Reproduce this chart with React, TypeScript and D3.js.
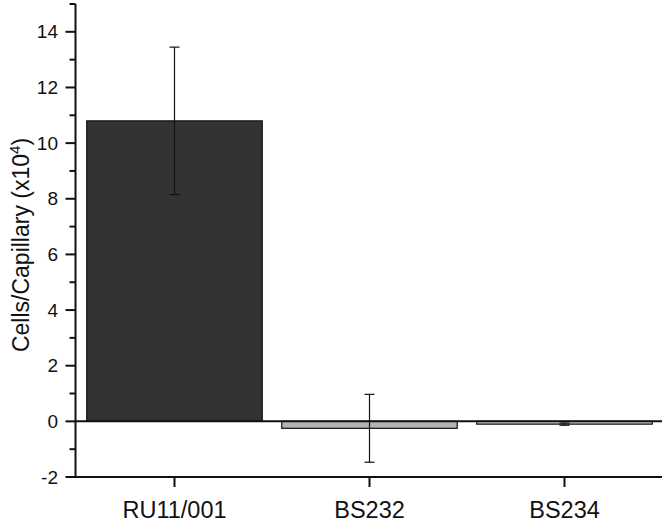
import React from 'react';
import * as d3 from 'd3';

const width = 666;
const height = 523;

const categories = ['RU11/001', 'BS232', 'BS234'];
const values = [10.8, -0.25, -0.1];
const errors = [2.65, 1.22, 0.04];
const fills = ['#333333', '#b3b3b3', '#c4c4c4'];
const majorTicks = [-2, 0, 2, 4, 6, 8, 10, 12, 14];
const minorTicks = [-1, 1, 3, 5, 7, 9, 11, 13, 15];

const font = 'Liberation Sans, Arial, sans-serif';

export default function App() {
  const axisX = 75.5;
  const left = 77;
  const right = 662;
  const top = 4;
  const bottom = 477;

  const y = d3.scaleLinear().domain([-2, 15]).range([bottom, top]);
  const x = d3.scaleBand().domain(categories).range([left, right]).paddingInner(0.1).paddingOuter(0.05);
  const center = (c) => x(c) + x.bandwidth() / 2;

  return (
    <svg width={width} height={height} style={{ position: 'absolute', left: 0, top: 0, background: '#fff' }}>
      {/* bars */}
      {categories.map((c, i) => {
        const y0 = y(0);
        const yv = y(values[i]);
        return (
          <rect key={c} x={x(c)} y={Math.min(y0, yv)} width={x.bandwidth()} height={Math.abs(yv - y0)}
            fill={fills[i]} stroke="#111" strokeWidth="1.2" />
        );
      })}
      {/* zero line */}
      <line x1={axisX} x2={right} y1={y(0)} y2={y(0)} stroke="#111" strokeWidth="2" />
      {/* error bars */}
      {categories.map((c, i) => {
        const cx = center(c);
        const hi = y(values[i] + errors[i]);
        const lo = y(values[i] - errors[i]);
        return (
          <g key={c} stroke="#111" strokeWidth="1.2">
            <line x1={cx} x2={cx} y1={hi} y2={lo} />
            <line x1={cx - 5} x2={cx + 5} y1={hi} y2={hi} />
            <line x1={cx - 5} x2={cx + 5} y1={lo} y2={lo} />
          </g>
        );
      })}
      {/* y axis */}
      <line x1={axisX} x2={axisX} y1={top} y2={bottom + 1} stroke="#111" strokeWidth="2" />
      {majorTicks.map(t => (
        <g key={t}>
          <line x1={axisX - 10} x2={axisX} y1={y(t)} y2={y(t)} stroke="#111" strokeWidth="2" />
          <text x={58} y={y(t)} dy="0.35em" textAnchor="end" fontFamily={font} fontSize="19" fill="#111">{t}</text>
        </g>
      ))}
      {minorTicks.map(t => (
        <line key={t} x1={axisX - 6} x2={axisX} y1={y(t)} y2={y(t)} stroke="#111" strokeWidth="2" />
      ))}
      {/* x axis */}
      <line x1={axisX - 1} x2={right} y1={bottom} y2={bottom} stroke="#111" strokeWidth="2" />
      {categories.map(c => (
        <g key={c}>
          <line x1={center(c)} x2={center(c)} y1={bottom} y2={bottom + 10} stroke="#111" strokeWidth="2" />
          <text x={center(c)} y={518} textAnchor="middle" fontFamily={font} fontSize="23.5" fill="#111">{c}</text>
        </g>
      ))}
      {/* y label */}
      <text transform={`translate(29, 245) rotate(-90)`} textAnchor="middle"
        fontFamily={font} fontSize="23" fill="#111">
        Cells/Capillary (x10<tspan dy="-9" fontSize="15">4</tspan><tspan dy="9">)</tspan>
      </text>
    </svg>
  );
}
